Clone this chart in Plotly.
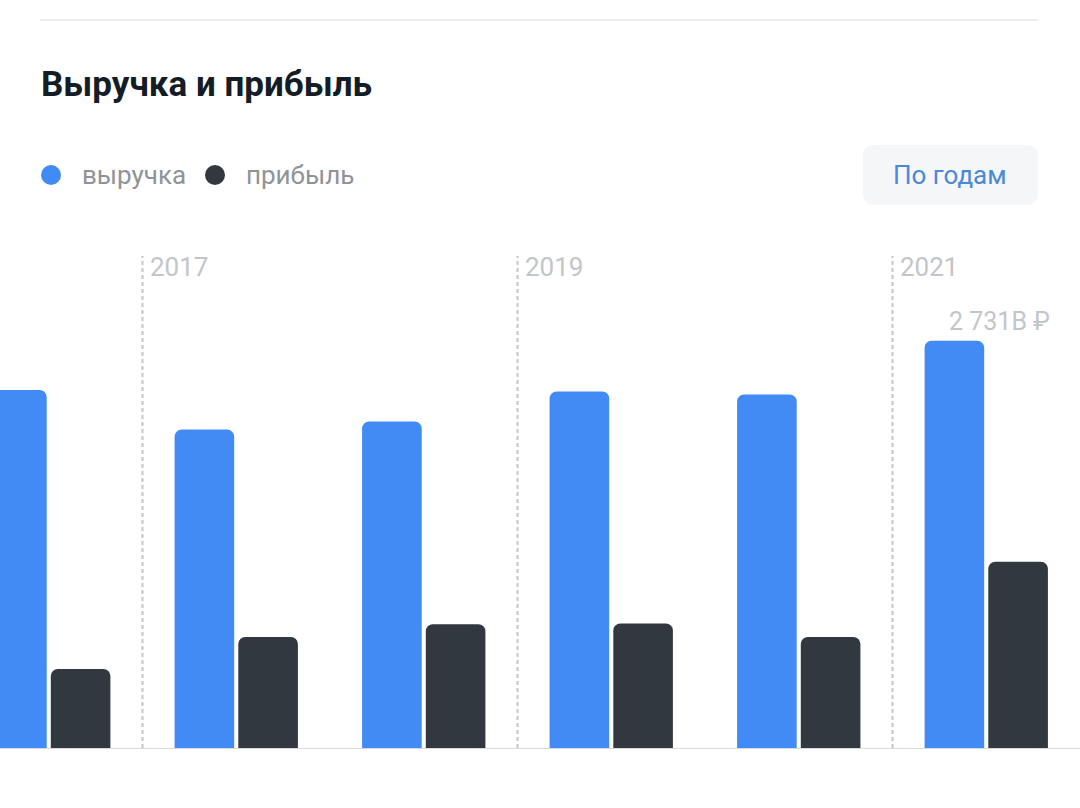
import plotly.graph_objects as go

# ---- data ----
years = [2016, 2017, 2018, 2019, 2020, 2021]
revenue = [2400, 2135, 2190, 2390, 2370, 2731]   # billions RUB
profit = [530, 745, 830, 835, 745, 1249]         # billions RUB
series_names = ["выручка", "прибыль"]
title_text = "Выручка и прибыль"
button_text = "По годам"

BLUE = "#428BF5"
DARK = "#31383F"
GRAY_TXT = "#8E9399"
LIGHT_TXT = "#C2C5C9"
FONT = "Roboto"

W, H = 1080, 808
M_T, M_B = 256, 60
PLOT_H = H - M_T - M_B
BASE_PX = H - M_B


def px_x(p):
    return p / W


def px_y(p):
    return (BASE_PX - p) / PLOT_H


pitch = 187.5
x0 = years[0] - 48.75 / pitch
x1 = x0 + W / pitch
ymax = revenue[-1] / 407.3 * PLOT_H

bar_w = 59.6 / pitch

fig = go.Figure()
fig.add_trace(go.Bar(
    x=years, y=revenue, name=series_names[0],
    width=bar_w, offset=-61.65 / pitch,
    marker=dict(color=BLUE, cornerradius=7, line=dict(width=0)),
))
fig.add_trace(go.Bar(
    x=years, y=profit, name=series_names[1],
    width=bar_w, offset=2.05 / pitch,
    marker=dict(color=DARK, cornerradius=7, line=dict(width=0)),
))

shapes = []
annotations = []

# top separator line
shapes.append(dict(type="line", xref="paper", yref="paper",
                   x0=px_x(40), x1=px_x(1038), y0=px_y(20), y1=px_y(20),
                   line=dict(color="#D9DADC", width=1)))

# title
annotations.append(dict(text="<b>" + title_text + "</b>", xref="paper", yref="paper",
                        x=px_x(39), y=px_y(84), xanchor="left", yanchor="middle",
                        showarrow=False, font=dict(family=FONT, size=35, color="#141C26")))

# legend (circles + labels)
legend_items = [(series_names[0], BLUE, 51, 80), (series_names[1], DARK, 215, 244)]
for name, col, cx, tx in legend_items:
    r = 10
    shapes.append(dict(type="circle", xref="paper", yref="paper",
                       x0=px_x(cx - r), x1=px_x(cx + r), y0=px_y(175 + r), y1=px_y(175 - r),
                       fillcolor=col, line=dict(width=0)))
    annotations.append(dict(text=name, xref="paper", yref="paper",
                            x=px_x(tx), y=px_y(175), xanchor="left", yanchor="middle",
                            showarrow=False, font=dict(family=FONT, size=26, color=GRAY_TXT)))

# button (rounded rect)
bx0, bx1, by0, by1, rr = 863, 1038, 145, 205, 12
def P(x, y):
    return f"{px_x(x)},{px_y(y)}"
path = (f"M {P(bx0 + rr, by0)} L {P(bx1 - rr, by0)} Q {P(bx1, by0)} {P(bx1, by0 + rr)} "
        f"L {P(bx1, by1 - rr)} Q {P(bx1, by1)} {P(bx1 - rr, by1)} "
        f"L {P(bx0 + rr, by1)} Q {P(bx0, by1)} {P(bx0, by1 - rr)} "
        f"L {P(bx0, by0 + rr)} Q {P(bx0, by0)} {P(bx0 + rr, by0)} Z")
shapes.append(dict(type="path", xref="paper", yref="paper", path=path,
                   fillcolor="#F5F6F7", line=dict(width=0), layer="below"))
annotations.append(dict(text=button_text, xref="paper", yref="paper",
                        x=px_x((bx0 + bx1) / 2), y=px_y(175), xanchor="center", yanchor="middle",
                        showarrow=False, font=dict(family=FONT, size=26, color="#4A89D8")))

# year separators (dashed) with labels
for yr in years[1::2]:
    shapes.append(dict(type="line", xref="x", yref="paper",
                       x0=yr - 0.5, x1=yr - 0.5, y0=0, y1=1,
                       line=dict(color="#C3C5C8", width=2, dash="4px,3px"), layer="below"))
    annotations.append(dict(text=str(yr), xref="x", yref="paper",
                            x=yr - 0.5, y=px_y(267), xanchor="left", yanchor="middle",
                            xshift=5, showarrow=False,
                            font=dict(family=FONT, size=26, color=LIGHT_TXT)))

# value label above last revenue bar
val = f"{revenue[-1]:,}".replace(",", " ") + "B ₽"
annotations.append(dict(text=val, xref="x", yref="y",
                        x=years[-1], y=revenue[-1], xanchor="center", yanchor="bottom",
                        xshift=13, yshift=3, showarrow=False,
                        font=dict(family=FONT, size=25, color=LIGHT_TXT)))

fig.update_layout(
    width=W, height=H,
    margin=dict(l=0, r=0, t=M_T, b=M_B, pad=0),
    paper_bgcolor="white", plot_bgcolor="white",
    showlegend=False,
    barmode="group",
    xaxis=dict(range=[x0, x1], showgrid=False, zeroline=False, showticklabels=False,
               ticks="", showline=True, linecolor="#DADBDD", linewidth=1, fixedrange=True),
    yaxis=dict(range=[0, ymax], showgrid=False, zeroline=False, showticklabels=False,
               ticks="", showline=False, fixedrange=True),
    shapes=shapes,
    annotations=annotations,
    font=dict(family=FONT),
)

fig.write_html("out.html", config={"displayModeBar": False},
               post_script="document.body.style.margin='0px';document.body.style.overflow='hidden';")
